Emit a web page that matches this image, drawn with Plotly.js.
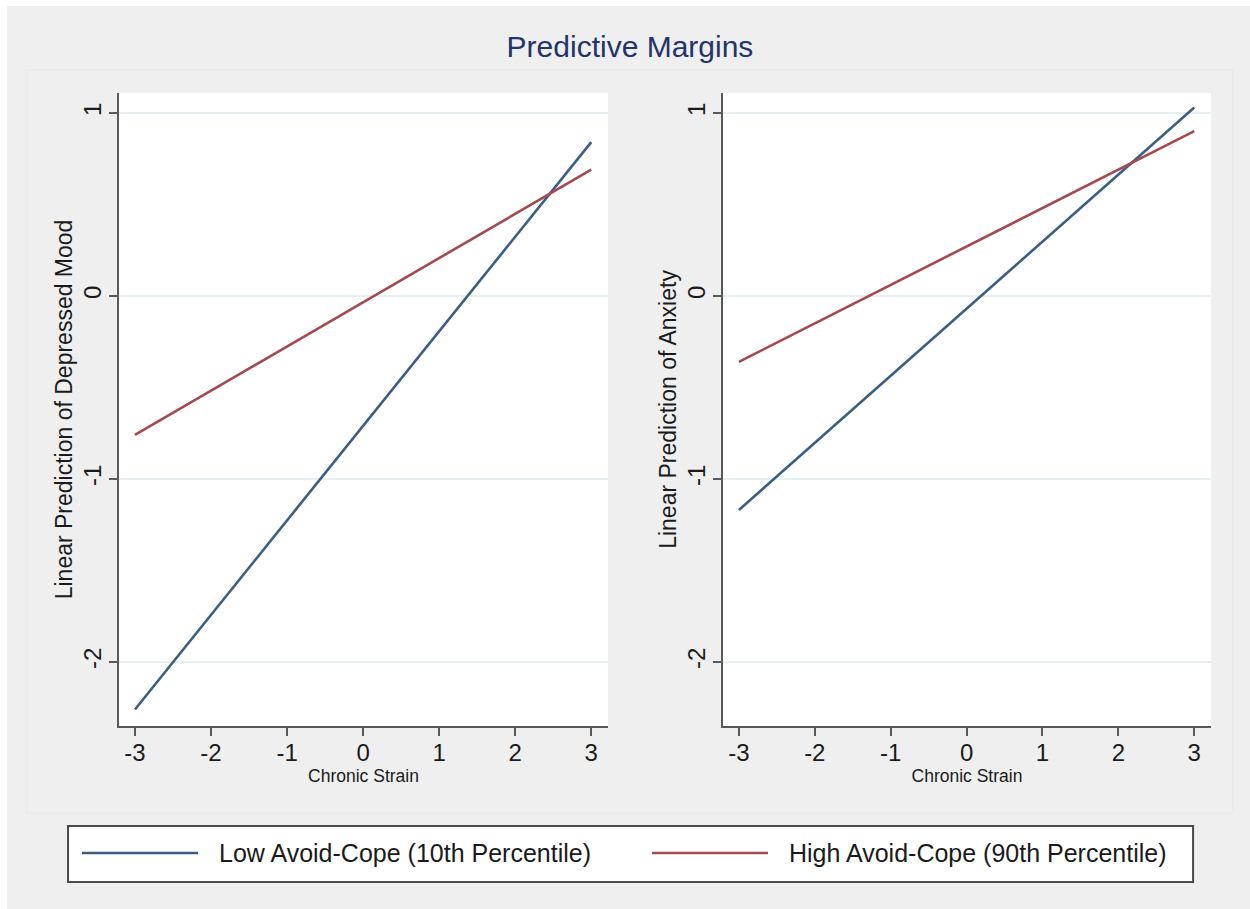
<!DOCTYPE html>
<html>
<head>
<meta charset="utf-8">
<script src="https://cdn.plot.ly/plotly-3.0.1.min.js"></script>
<style>
  html, body { margin: 0; padding: 0; background: #ffffff; width: 1250px; height: 909px; overflow: hidden; }
  #chart { position: absolute; left: 7px; top: 6px; width: 1243px; height: 903px; }
</style>
</head>
<body>
<div id="chart"></div>
<script>
// ---- Data ----
const chronicStrain = [-3, 3];
const seriesNames = ["Low Avoid-Cope (10th Percentile)", "High Avoid-Cope (90th Percentile)"];
// Left panel: Linear Prediction of Depressed Mood
const depressedLow  = [-2.26, 0.84];
const depressedHigh = [-0.76, 0.69];
// Right panel: Linear Prediction of Anxiety
const anxietyLow  = [-1.17, 1.03];
const anxietyHigh = [-0.36, 0.90];
const xTicks = [-3, -2, -1, 0, 1, 2, 3];
const yTicks = [-2, -1, 0, 1];
const panelTitles = ["Linear Prediction of Depressed Mood", "Linear Prediction of Anxiety"];
const xTitle = "Chronic Strain";
const chartTitle = "Predictive Margins";

const colors = ["#3a5f83", "#a3494f"];
const FONT = "Liberation Sans, Arial, sans-serif";

const traces = [
  {x: chronicStrain, y: depressedLow,  xaxis: "x",  yaxis: "y",  name: seriesNames[0]},
  {x: chronicStrain, y: depressedHigh, xaxis: "x",  yaxis: "y",  name: seriesNames[1]},
  {x: chronicStrain, y: anxietyLow,    xaxis: "x2", yaxis: "y2", name: seriesNames[0]},
  {x: chronicStrain, y: anxietyHigh,   xaxis: "x2", yaxis: "y2", name: seriesNames[1]}
].map((t, i) => Object.assign(t, {
  type: "scatter", mode: "lines", showlegend: false, hoverinfo: "skip",
  line: {color: colors[i % 2], width: 2.6}
}));

function xAxis(domain, anchor) {
  return {
    domain: domain, anchor: anchor, range: [-3.21, 3.22],
    tickmode: "array", tickvals: xTicks, ticktext: xTicks.map(String),
    ticks: "outside", ticklen: 8, tickwidth: 2, tickcolor: "#5a5a5a",
    ticklabelstandoff: -4,
    showline: true, linecolor: "#5a5a5a", linewidth: 2, mirror: false,
    showgrid: false, zeroline: false,
    tickfont: {family: FONT, size: 24, color: "#1a1a1a"},
    title: {text: xTitle, font: {family: FONT, size: 17.5, color: "#1a1a1a"}, standoff: 0},
    automargin: false, fixedrange: true
  };
}
function yAxis(domain, anchor, title) {
  return {
    domain: domain, anchor: anchor, range: [-2.35, 1.109],
    tickmode: "array", tickvals: yTicks, ticktext: yTicks.map(String),
    ticks: "outside", ticklen: 8, tickwidth: 2, tickcolor: "#5a5a5a",
    ticklabelstandoff: -2,
    tickangle: -90,
    showline: true, linecolor: "#5a5a5a", linewidth: 2, mirror: false,
    showgrid: true, gridcolor: "#e6f0f2", gridwidth: 1.5, zeroline: false,
    tickfont: {family: FONT, size: 24, color: "#1a1a1a"},
    title: {text: title, font: {family: FONT, size: 23, color: "#1a1a1a"}, standoff: 0},
    automargin: false, fixedrange: true
  };
}

const yDom = [0.2027, 0.9037];
const legendY = 0.0620;
const shapes = [
  // faint graph-region outline
  {type: "rect", xref: "paper", yref: "paper", x0: 0.0161, x1: 0.9863, y0: 0.1063, y1: 0.9291,
   line: {color: "#e4eaec", width: 1}, fillcolor: "rgba(0,0,0,0)", layer: "below"},
  // legend box
  {type: "rect", xref: "paper", yref: "paper", x0: 0.0491, x1: 0.9542, y0: 0.0299, y1: 0.0919,
   line: {color: "#4a4a4a", width: 2}, fillcolor: "#ffffff"},
  // legend keys
  {type: "line", xref: "paper", yref: "paper", x0: 0.0603, x1: 0.1537, y0: legendY, y1: legendY,
   line: {color: colors[0], width: 2.6}},
  {type: "line", xref: "paper", yref: "paper", x0: 0.5189, x1: 0.6122, y0: legendY, y1: legendY,
   line: {color: colors[1], width: 2.6}}
];
const annotations = [
  {xref: "paper", yref: "paper", x: 0.1690, y: legendY, xanchor: "left", yanchor: "middle",
   text: seriesNames[0], showarrow: false, font: {family: FONT, size: 25, color: "#1a1a1a"}},
  {xref: "paper", yref: "paper", x: 0.6276, y: legendY, xanchor: "left", yanchor: "middle",
   text: seriesNames[1], showarrow: false, font: {family: FONT, size: 25, color: "#1a1a1a"}}
];

const layout = {
  width: 1243, height: 903,
  margin: {l: 0, r: 0, t: 0, b: 0},
  paper_bgcolor: "#efefef", plot_bgcolor: "#ffffff",
  showlegend: false,
  title: {text: chartTitle, x: 0.5012, xref: "paper", xanchor: "center",
          y: 0.9546, yref: "container", yanchor: "middle",
          font: {family: FONT, size: 30, color: "#243468"}},
  xaxis: xAxis([0.0901, 0.4835], "y"),
  yaxis: yAxis(yDom, "x", panelTitles[0]),
  xaxis2: xAxis([0.5760, 0.9686], "y2"),
  yaxis2: yAxis(yDom, "x2", panelTitles[1]),
  shapes: shapes,
  annotations: annotations
};

Plotly.newPlot("chart", traces, layout, {staticPlot: true, displayModeBar: false});
</script>
</body>
</html>
